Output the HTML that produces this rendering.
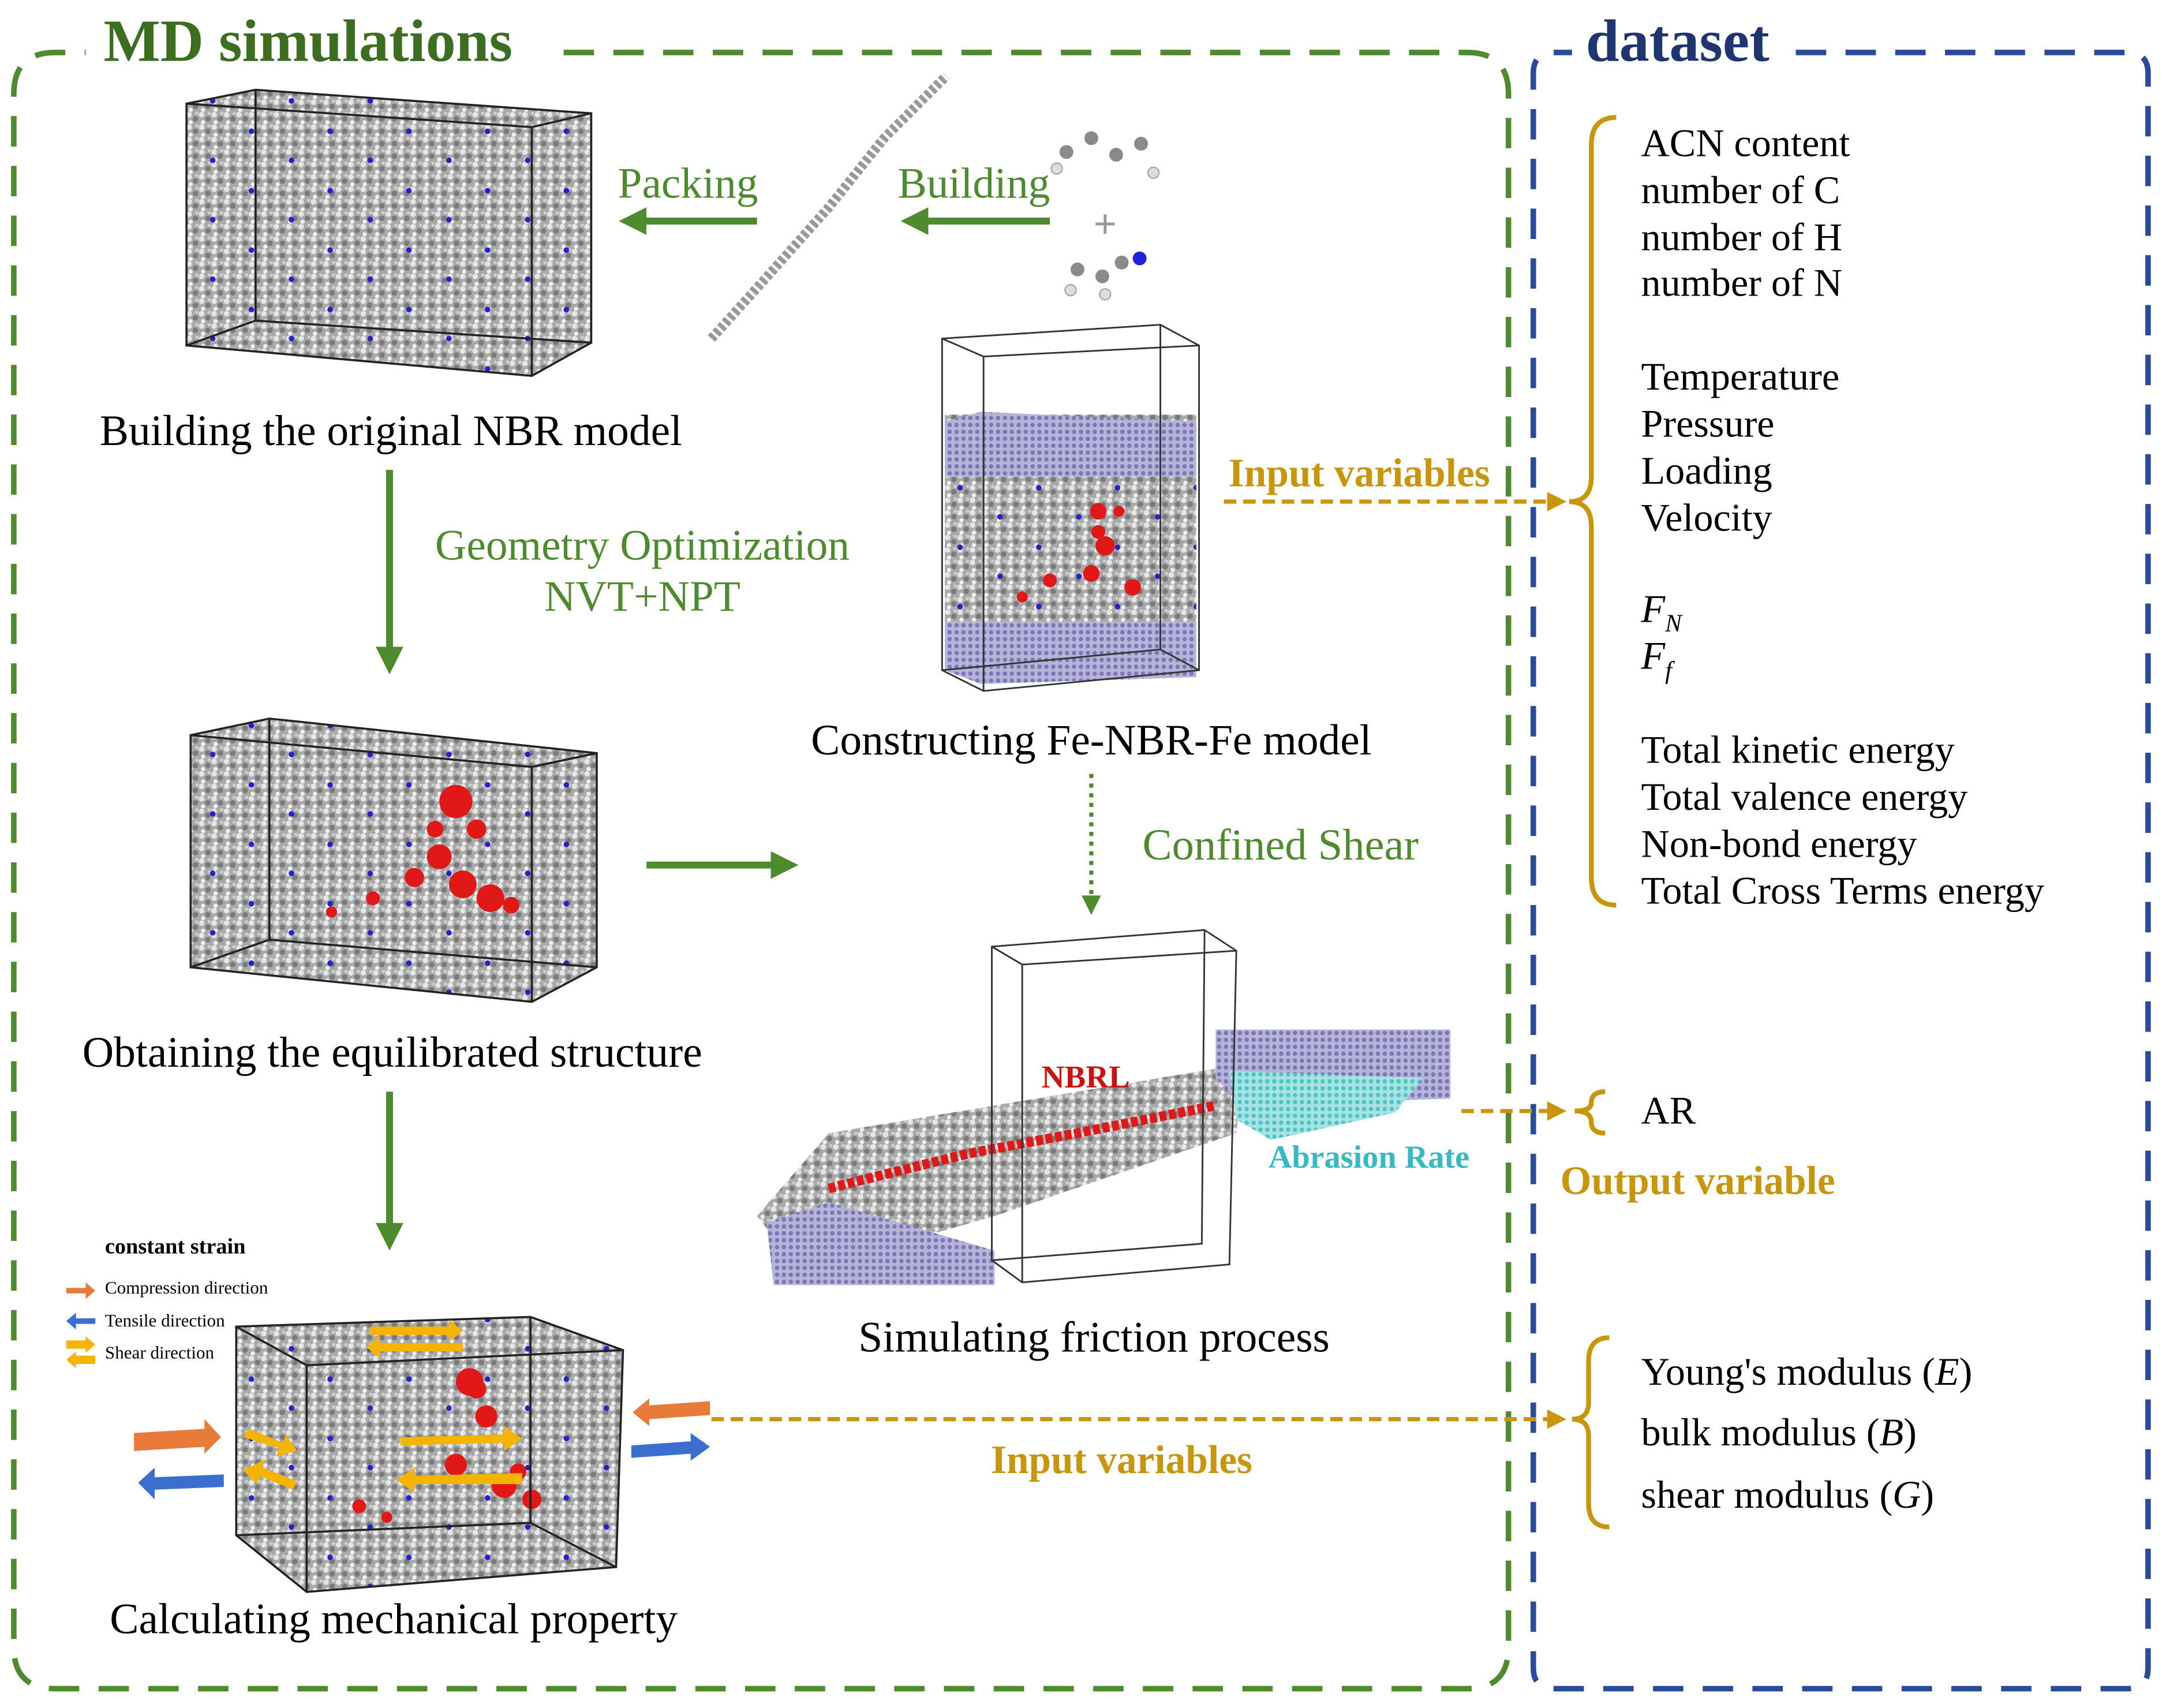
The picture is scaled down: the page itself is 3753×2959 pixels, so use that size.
<!DOCTYPE html>
<html><head><meta charset="utf-8"><style>
html,body{margin:0;padding:0;background:#fff;}
svg{display:block;}
text{font-family:"Liberation Serif",serif;}
</style></head><body>
<svg width="3753" height="2959" viewBox="0 0 1568 1236" preserveAspectRatio="none" xmlns="http://www.w3.org/2000/svg">
<defs>
<pattern id="mol" width="9" height="9" patternUnits="userSpaceOnUse">
<rect width="9" height="9" fill="#a9a9a9"/>
<circle cx="2" cy="2" r="2" fill="#e6e6e6"/>
<circle cx="6.5" cy="5" r="2" fill="#7a7a7a"/>
<circle cx="3" cy="7.5" r="1.5" fill="#f2f2f2"/>
<circle cx="7.5" cy="1" r="1.2" fill="#d0d0d0"/>
</pattern>
<pattern id="blue" width="57" height="43" patternUnits="userSpaceOnUse">
<circle cx="11" cy="9" r="2" fill="#2222cc"/>
<circle cx="40" cy="30" r="2" fill="#2222cc"/>
</pattern>
<pattern id="fe" width="5" height="5" patternUnits="userSpaceOnUse">
<rect width="5" height="5" fill="#b6b4d8"/>
<circle cx="2.5" cy="2.5" r="1.6" fill="#7c78b8"/>
</pattern>
<pattern id="cy" width="5" height="5" patternUnits="userSpaceOnUse">
<rect width="5" height="5" fill="#a8e2e2"/>
<circle cx="2.5" cy="2.5" r="1.6" fill="#4ec6c6"/>
</pattern>
<marker id="ga" markerWidth="4" markerHeight="4" refX="2" refY="2" orient="auto" markerUnits="strokeWidth"><path d="M0,0 L4,2 L0,4 z" fill="#4e8a2e"/></marker>
</defs>

<!-- containers -->
<path d="M408,38 L1062,38 Q1092,38 1092,68 L1092,1192 Q1092,1222 1062,1222 L40,1222 Q10,1222 10,1192 L10,68 Q10,38 40,38 L62,38" fill="none" stroke="#4e8a2e" stroke-width="4" stroke-dasharray="22,14"/>
<text x="75" y="44" font-size="43.5" font-weight="bold" fill="#3c6e22">MD simulations</text>
<path d="M1300,38 L1540,38 Q1555,38 1555,53 L1555,1207 Q1555,1222 1540,1222 L1125,1222 Q1110,1222 1110,1207 L1110,53 Q1110,38 1125,38 L1138,38" fill="none" stroke="#2a4b9a" stroke-width="4" stroke-dasharray="22,14"/>
<text x="1148" y="44" font-size="43.5" font-weight="bold" fill="#1f3570">dataset</text>

<!-- box 1 -->
<g>
<polygon points="135,75 185,65 428,82 428,248 385,272 135,250" fill="url(#mol)"/>
<polygon points="135,75 185,65 428,82 428,248 385,272 135,250" fill="url(#blue)"/>
<path d="M135,75 L185,65 L428,82 L428,248 L385,272 L135,250 Z M135,75 L385,92 L428,82 M385,92 L385,272 M185,65 L185,232 L135,250 M185,232 L428,248" fill="none" stroke="#222" stroke-width="1.5"/>
</g>
<text x="283" y="322" font-size="31.5" text-anchor="middle">Building the original NBR model</text>

<!-- chain and monomers -->
<path d="M515,245 L560,195 L600,150 L640,100 L685,55" stroke="#999" stroke-width="7" stroke-dasharray="3,2" fill="none"/>
<g fill="#8a8a8a"><circle cx="772" cy="110" r="5"/><circle cx="790" cy="100" r="5"/><circle cx="808" cy="112" r="5"/><circle cx="826" cy="104" r="5"/><circle cx="780" cy="195" r="5"/><circle cx="798" cy="200" r="5"/><circle cx="812" cy="190" r="5"/></g>
<g fill="#ddd" stroke="#aaa"><circle cx="765" cy="122" r="4"/><circle cx="835" cy="125" r="4"/><circle cx="775" cy="210" r="4"/><circle cx="800" cy="213" r="4"/></g>
<circle cx="825" cy="187" r="5" fill="#2222dd"/>
<text x="800" y="172" font-size="30" text-anchor="middle" fill="#999" font-weight="bold">+</text>

<!-- packing / building arrows -->
<line x1="548" y1="160" x2="458" y2="160" stroke="#4e8a2e" stroke-width="5" marker-end="url(#ga)"/>
<text x="498" y="143" font-size="31.5" text-anchor="middle" fill="#4e8a2e">Packing</text>
<line x1="760" y1="160" x2="662" y2="160" stroke="#4e8a2e" stroke-width="5" marker-end="url(#ga)"/>
<text x="705" y="143" font-size="31.5" text-anchor="middle" fill="#4e8a2e">Building</text>

<!-- down arrow 1 -->
<line x1="282" y1="340" x2="282" y2="478" stroke="#4e8a2e" stroke-width="5" marker-end="url(#ga)"/>
<text x="465" y="405" font-size="31.5" text-anchor="middle" fill="#4e8a2e">Geometry Optimization</text>
<text x="465" y="442" font-size="31.5" text-anchor="middle" fill="#4e8a2e">NVT+NPT</text>

<!-- box 2 -->
<g>
<polygon points="138,532 195,520 432,545 432,700 385,725 138,700" fill="url(#mol)"/>
<polygon points="138,532 195,520 432,545 432,700 385,725 138,700" fill="url(#blue)"/>
<g fill="#e01818"><circle cx="330" cy="580" r="12"/><circle cx="318" cy="620" r="9"/><circle cx="335" cy="640" r="10"/><circle cx="355" cy="650" r="10"/><circle cx="300" cy="635" r="7"/><circle cx="270" cy="650" r="5"/><circle cx="240" cy="660" r="4"/><circle cx="345" cy="600" r="7"/><circle cx="315" cy="600" r="6"/><circle cx="370" cy="655" r="6"/></g>
<path d="M138,532 L195,520 L432,545 L432,700 L385,725 L138,700 Z M138,532 L385,555 L432,545 M385,555 L385,725 M195,520 L195,680 L138,700 M195,680 L432,700" fill="none" stroke="#222" stroke-width="1.5"/>
</g>
<text x="284" y="772" font-size="31.5" text-anchor="middle">Obtaining the equilibrated structure</text>
<line x1="468" y1="626" x2="568" y2="626" stroke="#4e8a2e" stroke-width="5" marker-end="url(#ga)"/>

<!-- down arrow 2 -->
<line x1="282" y1="790" x2="282" y2="895" stroke="#4e8a2e" stroke-width="5" marker-end="url(#ga)"/>

<!-- mechanical -->
<text x="76" y="907" font-size="16" font-weight="bold">constant strain</text>
<path d="M48,932 L62,932 L62,928 L69,934 L62,940 L62,936 L48,936 Z" fill="#e87a3a"/>
<text x="76" y="936" font-size="13">Compression direction</text>
<path d="M69,954 L55,954 L55,950 L48,956 L55,962 L55,958 L69,958 Z" fill="#3a6fcf"/>
<text x="76" y="960" font-size="13">Tensile direction</text>
<path d="M48,970 L62,970 L62,967 L69,973 L62,979 L62,976 L48,976 Z" fill="#f5b400"/>
<path d="M69,981 L55,981 L55,978 L48,984 L55,990 L55,987 L69,987 Z" fill="#f5b400"/>
<text x="76" y="983" font-size="13">Shear direction</text>
<g>
<polygon points="171,960 384,953 451,977 446,1134 222,1152 171,1111" fill="url(#mol)"/>
<polygon points="171,960 384,953 451,977 446,1134 222,1152 171,1111" fill="url(#blue)"/>
<g fill="#e01818"><circle cx="340" cy="1000" r="10"/><circle cx="352" cy="1025" r="8"/><circle cx="345" cy="1005" r="7"/><circle cx="330" cy="1060" r="8"/><circle cx="365" cy="1075" r="9"/><circle cx="385" cy="1085" r="7"/><circle cx="375" cy="1065" r="6"/><circle cx="260" cy="1090" r="5"/><circle cx="280" cy="1098" r="4"/></g>
<path d="M171,960 L384,953 L451,977 L446,1134 L222,1152 L171,1111 Z M171,960 L222,988 L451,977 M222,988 L222,1152 M384,953 L384,1102 L171,1111 M384,1102 L446,1134" fill="none" stroke="#222" stroke-width="1.5"/>
</g>
<g fill="#f5b400">
<path d="M268,960 L325,960 L325,955 L335,963 L325,971 L325,966 L268,966 Z"/>
<path d="M335,972 L275,972 L275,967 L265,975 L275,983 L275,978 L335,978 Z"/>
<path d="M180,1034 L205,1044 L207,1038 L215,1050 L200,1054 L202,1048 L176,1040 Z"/>
<path d="M215,1072 L190,1062 L192,1056 L176,1064 L186,1074 L188,1068 L212,1078 Z"/>
<path d="M290,1040 L365,1038 L365,1032 L378,1041 L365,1050 L365,1044 L290,1046 Z"/>
<path d="M378,1066 L300,1068 L300,1062 L287,1071 L300,1080 L300,1074 L378,1074 Z"/>
</g>
<path d="M97,1037 L148,1034 L148,1027 L160,1040 L148,1052 L148,1047 L97,1050 Z" fill="#e87a3a"/>
<path d="M162,1067 L112,1069 L112,1062 L100,1073 L112,1085 L112,1078 L162,1076 Z" fill="#3a6fcf"/>
<path d="M514,1014 L470,1017 L470,1012 L458,1022 L470,1032 L470,1027 L514,1024 Z" fill="#e87a3a"/>
<path d="M457,1046 L500,1043 L500,1037 L514,1047 L500,1057 L500,1052 L457,1055 Z" fill="#3a6fcf"/>
<text x="285" y="1182" font-size="31.5" text-anchor="middle">Calculating mechanical property</text>

<!-- Fe-NBR-Fe -->
<g>
<rect x="684" y="300" width="182" height="150" fill="url(#mol)"/>
<rect x="684" y="300" width="182" height="150" fill="url(#blue)"/>
<polygon points="684,305 710,298 866,305 866,345 684,345" fill="url(#fe)"/>
<polygon points="684,450 866,450 866,490 710,495 684,485" fill="url(#fe)"/>
<g fill="#e01818"><circle cx="795" cy="370" r="6"/><circle cx="800" cy="395" r="7"/><circle cx="790" cy="415" r="6"/><circle cx="760" cy="420" r="5"/><circle cx="820" cy="425" r="6"/><circle cx="740" cy="432" r="4"/><circle cx="810" cy="370" r="4"/><circle cx="795" cy="385" r="5"/></g>
<path d="M682,245 L840,235 L868,250 L868,485 L712,500 L682,485 Z M682,245 L712,258 L868,250 M712,258 L712,500 M840,235 L840,470 L682,485 M840,470 L868,485" fill="none" stroke="#333" stroke-width="1.2"/>
</g>
<text x="790" y="546" font-size="31.5" text-anchor="middle">Constructing Fe-NBR-Fe model</text>
<line x1="790" y1="560" x2="790" y2="652" stroke="#4e8a2e" stroke-width="3" stroke-dasharray="3,4"/>
<path d="M783,648 L797,648 L790,662 Z" fill="#4e8a2e"/>
<text x="927" y="622" font-size="32" text-anchor="middle" fill="#4e8a2e">Confined Shear</text>

<!-- friction -->
<polygon points="548,880 600,820 900,770 895,820 720,880 580,920" fill="url(#mol)"/>
<polygon points="555,885 600,870 720,905 720,930 560,930" fill="url(#fe)"/>
<polygon points="880,745 1050,745 1050,795 900,800 880,780" fill="url(#fe)"/>
<polygon points="890,775 1030,780 1010,805 920,825 895,810" fill="url(#cy)"/>
<path d="M600,860 L700,835 L780,820 L880,800" stroke="#e01818" stroke-width="7" fill="none" stroke-dasharray="5,2"/>
<path d="M718,685 L872,673 L895,688 L890,915 L740,928 L718,912 Z M718,685 L740,698 L895,688 M740,698 L740,928 M872,673 L870,900 L718,912" fill="none" stroke="#333" stroke-width="1.2"/>
<text x="786" y="787" font-size="23" font-weight="bold" text-anchor="middle" fill="#cc1111">NBRL</text>
<text x="991" y="845" font-size="23.5" font-weight="bold" text-anchor="middle" fill="#38b8c0">Abrasion Rate</text>
<text x="792" y="978" font-size="31.5" text-anchor="middle">Simulating friction process</text>

<!-- gold connectors -->
<text x="984" y="352" font-size="29" font-weight="bold" text-anchor="middle" fill="#c8960c">Input variables</text>
<line x1="886" y1="363" x2="1122" y2="363" stroke="#c8960c" stroke-width="3" stroke-dasharray="9,5"/>
<path d="M1120,356 L1134,363 L1120,370 Z" fill="#c8960c"/>
<line x1="1058" y1="804" x2="1122" y2="804" stroke="#c8960c" stroke-width="3" stroke-dasharray="9,5"/>
<path d="M1120,797 L1134,804 L1120,811 Z" fill="#c8960c"/>
<text x="1229" y="864" font-size="29" font-weight="bold" text-anchor="middle" fill="#c8960c">Output variable</text>
<line x1="515" y1="1027" x2="1122" y2="1027" stroke="#c8960c" stroke-width="3" stroke-dasharray="9,5"/>
<path d="M1120,1020 L1134,1027 L1120,1034 Z" fill="#c8960c"/>
<text x="812" y="1066" font-size="29" font-weight="bold" text-anchor="middle" fill="#c8960c">Input variables</text>

<!-- braces -->
<g fill="none" stroke="#c8960c" stroke-width="3.5">
<path d="M1170,85 Q1152,85 1152,105 L1152,345 Q1152,363 1136,363 Q1152,363 1152,381 L1152,635 Q1152,655 1170,655"/>
<path d="M1162,790 Q1152,790 1152,798 Q1152,804 1140,804 Q1152,804 1152,812 Q1152,820 1162,820"/>
<path d="M1165,968 Q1150,968 1150,985 L1150,1015 Q1150,1027 1138,1027 Q1150,1027 1150,1039 L1150,1088 Q1150,1105 1165,1105"/>
</g>

<!-- dataset text -->
<g font-size="28.5">
<text x="1188" y="113">ACN content</text>
<text x="1188" y="147">number of C</text>
<text x="1188" y="181">number of H</text>
<text x="1188" y="214">number of N</text>
<text x="1188" y="282">Temperature</text>
<text x="1188" y="316">Pressure</text>
<text x="1188" y="350">Loading</text>
<text x="1188" y="384">Velocity</text>
<text x="1188" y="450" font-style="italic">F<tspan font-size="18" dy="7">N</tspan></text>
<text x="1188" y="484" font-style="italic">F<tspan font-size="18" dy="7">f</tspan></text>
<text x="1188" y="552">Total kinetic energy</text>
<text x="1188" y="586">Total valence energy</text>
<text x="1188" y="620">Non-bond energy</text>
<text x="1188" y="654">Total Cross Terms energy</text>
<text x="1188" y="813">AR</text>
<text x="1188" y="1002">Young's modulus (<tspan font-style="italic">E</tspan>)</text>
<text x="1188" y="1046">bulk modulus (<tspan font-style="italic">B</tspan>)</text>
<text x="1188" y="1091">shear modulus (<tspan font-style="italic">G</tspan>)</text>
</g>
</svg>
</body></html>
